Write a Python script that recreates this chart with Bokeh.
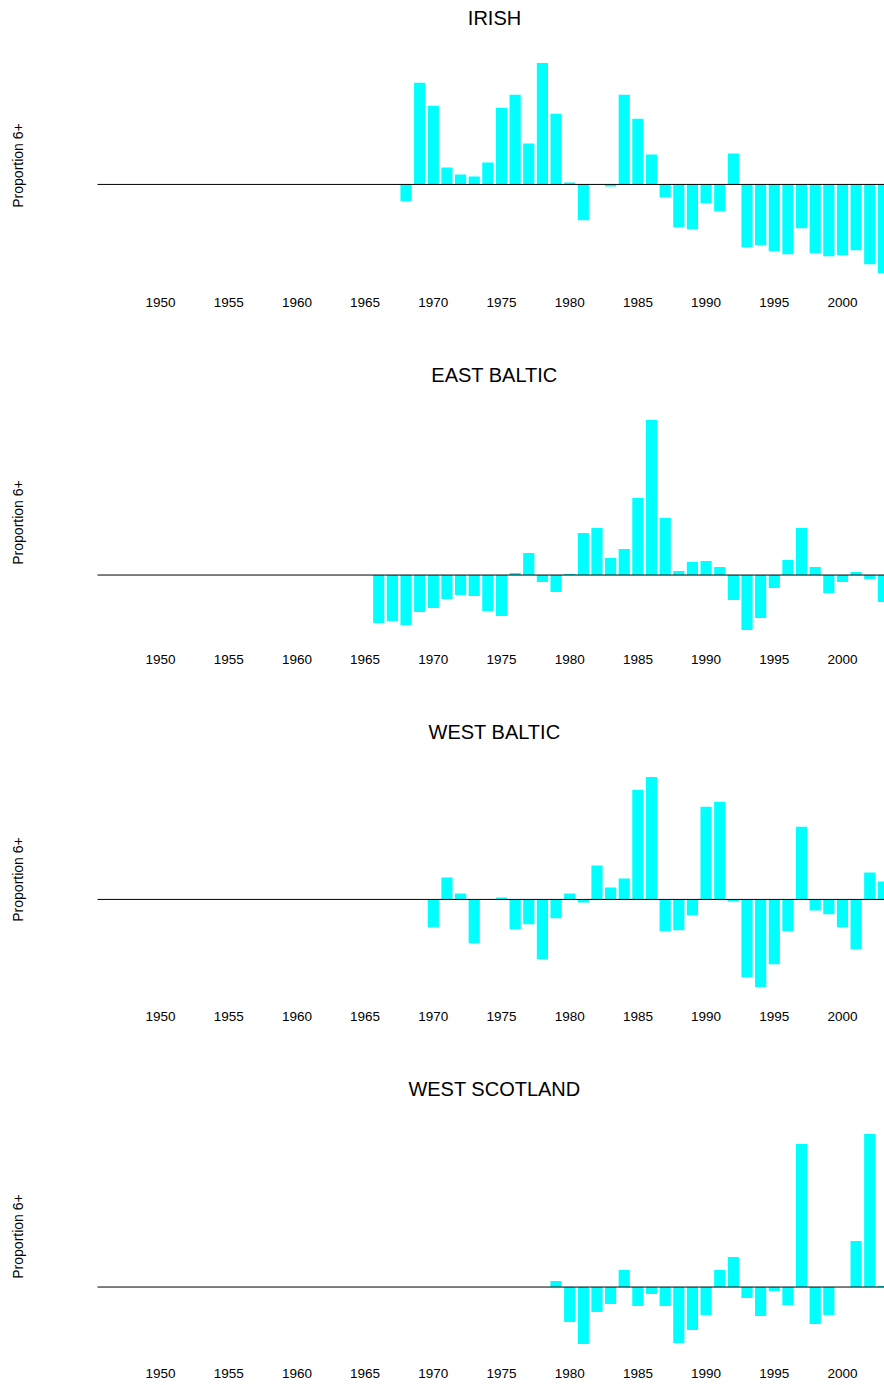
import math

from bokeh.plotting import figure
from bokeh.layouts import column
from bokeh.models import FixedTicker, Label
from bokeh.embed import file_html
from bokeh.resources import INLINE

# Year-on-year anomaly of the proportion of age 6+ fish, by stock
TICK_YEARS = [1950, 1955, 1960, 1965, 1970, 1975, 1980, 1985, 1990, 1995, 2000]

irish_years = list(range(1968, 2004))
irish_vals = [
    -0.017, 0.102, 0.079, 0.017, 0.010, 0.008, 0.022, 0.077, 0.090, 0.041,
    0.122, 0.071, 0.002, -0.036, 0.000, -0.002, 0.090, 0.066, 0.030, -0.013,
    -0.043, -0.045, -0.019, -0.027, 0.031, -0.063, -0.061, -0.067, -0.070, -0.044,
    -0.069, -0.072, -0.071, -0.066, -0.080, -0.089,
]

east_baltic_years = list(range(1966, 2004))
east_baltic_vals = [
    -0.048, -0.046, -0.050, -0.037, -0.033, -0.024, -0.020, -0.021, -0.036, -0.041,
    0.002, 0.022, -0.007, -0.017, 0.001, 0.042, 0.047, 0.017, 0.026, 0.077,
    0.155, 0.057, 0.004, 0.013, 0.014, 0.008, -0.025, -0.055, -0.043, -0.013,
    0.015, 0.047, 0.008, -0.018, -0.007, 0.003, -0.004, -0.027,
]

west_baltic_years = list(range(1970, 2004))
west_baltic_vals = [
    -0.028, 0.022, 0.006, -0.044, 0.000, 0.002, -0.030, -0.025, -0.060, -0.019,
    0.006, -0.003, 0.034, 0.012, 0.021, 0.110, 0.123, -0.032, -0.031, -0.016,
    0.093, 0.098, -0.002, -0.078, -0.088, -0.065, -0.032, 0.073, -0.011, -0.015,
    -0.028, -0.050, 0.027, 0.018,
]

west_scotland_years = list(range(1979, 2004))
west_scotland_vals = [
    0.006, -0.035, -0.057, -0.025, -0.017, 0.017, -0.019, -0.007, -0.019, -0.056,
    -0.043, -0.028, 0.017, 0.030, -0.011, -0.029, -0.004, -0.018, 0.143, -0.037,
    -0.028, 0.000, 0.046, 0.153, 0.001,
]

PANELS = [
    ("IRISH", irish_years, irish_vals),
    ("EAST BALTIC", east_baltic_years, east_baltic_vals),
    ("WEST BALTIC", west_baltic_years, west_baltic_vals),
    ("WEST SCOTLAND", west_scotland_years, west_scotland_vals),
]

FONT = "Liberation Sans"
Y_LABEL = "Proportion 6+"

# Page geometry (pixels).  The canvas area of each panel holds the heading,
# the side label and the bar region; the year labels sit underneath it.
FIG_W = 884
AREA_H = 281            # canvas area height above the year labels
BAR_LEFT = 97           # left edge of the bar region
BAR_TOP = 54            # top edge of the bar region
TITLE_CX, TITLE_BASE = 494, 17.5
YLAB_CX, YLAB_CY = 17, 165

# year span covered by the bar region
X_START, X_END = 1945.38, 2003.08


def make_panel(name, years, vals, height):
    xpp = (X_END - X_START) / (FIG_W - BAR_LEFT)          # years per pixel
    x_lo = X_START - BAR_LEFT * xpp

    lo, hi = min(vals), max(vals)
    pad = 0.04 * (hi - lo)
    y_bot, y_top = lo - pad, hi + pad
    ypp = (y_top - y_bot) / (AREA_H - BAR_TOP)            # value per pixel
    y_hi = y_top + BAR_TOP * ypp

    p = figure(
        width=FIG_W, height=height,
        x_range=(x_lo, X_END), y_range=(y_bot, y_hi),
        output_backend="svg", toolbar_location=None,
        y_axis_location=None,
        min_border_left=0, min_border_right=0, min_border_top=0,
        min_border_bottom=height - AREA_H,
    )
    p.outline_line_color = None
    p.grid.visible = False
    p.background_fill_color = "white"
    p.border_fill_color = "white"

    p.vbar(x=years, top=vals, bottom=0, width=0.82,
           fill_color="#00FFFF", line_color=None)
    # zero reference line across the bar region
    p.line(x=[X_START, X_END], y=[0, 0], line_color="black", line_width=1)

    p.add_layout(Label(
        x=X_START + (TITLE_CX - BAR_LEFT) * xpp,
        y=y_hi - TITLE_BASE * ypp,
        text=name, text_align="center", text_baseline="alphabetic",
        text_font=FONT, text_font_size="20px", text_color="black"))

    p.add_layout(Label(
        x=x_lo + YLAB_CX * xpp,
        y=y_hi - YLAB_CY * ypp,
        text=Y_LABEL, angle=math.pi / 2,
        text_align="center", text_baseline="middle",
        text_font=FONT, text_font_size="14px", text_color="black"))

    xa = p.xaxis[0]
    xa.ticker = FixedTicker(ticks=TICK_YEARS)
    xa.axis_line_color = None
    xa.major_tick_line_color = None
    xa.minor_tick_line_color = None
    xa.major_tick_out = 0
    xa.major_tick_in = 0
    xa.major_label_standoff = 16
    xa.major_label_text_font = FONT
    xa.major_label_text_font_size = "13.5px"
    xa.major_label_text_color = "black"
    return p


figs = []
for i, (name, years, vals) in enumerate(PANELS):
    last = i == len(PANELS) - 1
    figs.append(make_panel(name, years, vals, height=314 if last else 357))

layout = column(*figs, spacing=0)
open("out.html", "w").write(file_html(layout, INLINE))
